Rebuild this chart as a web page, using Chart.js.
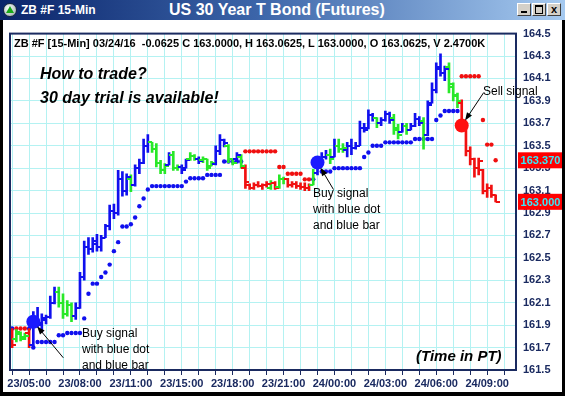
<!DOCTYPE html>
<html>
<head>
<meta charset="utf-8">
<title>ZB #F 15-Min</title>
<script src="https://cdn.jsdelivr.net/npm/chart.js@4.4.1/dist/chart.umd.min.js"></script>
<style>
  html, body { margin: 0; padding: 0; }
  body { width: 565px; height: 396px; position: relative; overflow: hidden; background: #000;
         font-family: "Liberation Sans", Arial, sans-serif; }
  #titlebar { position: absolute; left: 0; top: 0; width: 565px; height: 20px;
              background: linear-gradient(to right, #0a246a 0%, #3b64a8 45%, #a6caf0 100%); }
  #icon { position: absolute; left: 3px; top: 3px; width: 14px; height: 14px; border-radius: 50%;
          box-sizing: border-box; border: 1px solid #1a2a40;
          background: radial-gradient(circle at 40% 35%, #ffffff, #a0b0b0 85%); }
  #icon:after { content: ''; position: absolute; left: 2px; top: 2px; width: 0; height: 0;
                border-left: 4px solid transparent; border-right: 4px solid transparent;
                border-bottom: 7px solid #18a818; }
  #tleft { position: absolute; left: 21px; top: 3px; color: #fff; font: bold 12px/14px "Liberation Sans", Arial, sans-serif; }
  #tmain { position: absolute; left: 169px; top: 1px; color: #fff; font: bold 16px/18px "Liberation Sans", Arial, sans-serif; }
  .btn { position: absolute; top: 3px; width: 14px; height: 13px; box-sizing: border-box; background: #d4d0c8;
         border: 1px solid; border-color: #ffffff #404040 #404040 #ffffff; }
  #bmin:after { content: ''; position: absolute; left: 3px; top: 7px; width: 6px; height: 2px; background: #000; }
  #bmax:after { content: ''; position: absolute; left: 2px; top: 1px; width: 6px; height: 6px; border: 1px solid #000; border-top-width: 2px; }
  #bclose { font: bold 11px/11px "Liberation Sans", Arial, sans-serif; text-align: center; color: #000; }
  #client { position: absolute; left: 3px; top: 20px; width: 559px; height: 372px; background: #fff; }
  #client canvas { position: absolute; left: 0; top: 0; }
  .note { position: absolute; white-space: nowrap; color: #000; }
  .big { font: italic bold 16px/18px "Liberation Sans", Arial, sans-serif; }
  .small { font: 12px/16px "Liberation Sans", Arial, sans-serif; }
</style>
</head>
<body>
<div id="titlebar">
  <div id="icon"></div>
  <div id="tleft">ZB #F 15-Min</div>
  <div id="tmain">US 30 Year T Bond (Futures)</div>
  <div class="btn" id="bmin" style="left:517px"></div>
  <div class="btn" id="bmax" style="left:532px"></div>
  <div class="btn" id="bclose" style="left:547px">x</div>
</div>
<div id="client"><canvas id="chart" width="559" height="372"></canvas></div>

<div class="note" style="left:14px; top:37px; font: bold 11px/13px 'Liberation Sans', Arial, sans-serif;">ZB #F [15-Min] 03/24/16&nbsp; -0.0625 C 163.0000, H 163.0625, L 163.0000, O 163.0625, V 2.4700K</div>
<div class="note big" style="left:40px; top:65px;">How to trade?</div>
<div class="note big" style="left:40px; top:89px;">30 day trial is available!</div>
<div class="note big" style="left:416px; top:347px; font-size:15px;">(Time in PT)</div>
<div class="note small" style="left:82px; top:325px;">Buy signal<br>with blue dot<br>and blue bar</div>
<div class="note small" style="left:313px; top:185px;">Buy signal<br>with blue dot<br>and blue bar</div>
<div class="note small" style="left:483px; top:83px;">Sell signal</div>

<script>
// 15-min bars of 03/23 - 03/24 (PT), session break 14:00-15:00
const times = [];
for (let d = 23, h = 4, m = 0; times.length < 119; ) {
  times.push(d + '/' + String(h).padStart(2, '0') + ':' + String(m).padStart(2, '0'));
  m += 15;
  if (m === 60) { m = 0; h++; }
  if (h === 24) { h = 0; d++; }
  if (d === 23 && h === 14) h = 15;
}

const xTickLabels = ['23/05:00', '23/08:00', '23/11:00', '23/15:00', '23/18:00', '23/21:00',
                     '24/00:00', '24/03:00', '24/06:00', '24/09:00'];
const yTicks = [161.5, 161.7, 161.9, 162.1, 162.3, 162.5, 162.7, 162.9,
                163.1, 163.3, 163.5, 163.7, 163.9, 164.1, 164.3, 164.5];

const open = [
  161.85,161.78,161.82,161.79,161.83,161.72,161.95,161.90,161.95,161.97,
  162.10,162.20,162.10,162.00,162.08,161.98,162.05,162.33,162.60,162.58,
  162.62,162.60,162.68,162.78,162.92,162.90,163.20,163.10,163.20,163.15,
  163.30,163.35,163.50,163.53,163.47,163.35,163.28,163.33,163.42,163.30,
  163.31,163.30,163.38,163.41,163.38,163.37,163.38,163.32,163.34,163.45,
  163.55,163.50,163.38,163.38,163.40,163.30,163.15,163.12,163.15,163.14,
  163.15,163.12,163.17,163.13,163.20,163.20,163.15,163.16,163.14,163.13,
  163.12,163.15,163.26,163.36,163.40,163.42,163.40,163.50,163.47,163.46,
  163.50,163.48,163.50,163.66,163.66,163.77,163.75,163.70,163.73,163.78,
  163.75,163.66,163.62,163.68,163.64,163.68,163.74,163.72,163.60,163.88,
  164.00,164.20,164.15,164.20,164.05,163.95,163.88,163.68,163.45,163.38,
  163.30,163.28,163.10,163.12,163.0625
];
const high = [
  161.87,161.86,161.84,161.83,161.87,162.02,162.06,162.00,161.99,162.16,
  162.24,162.24,162.18,162.12,162.10,162.10,162.37,162.65,162.68,162.68,
  162.71,162.70,162.80,162.97,162.98,163.28,163.27,163.25,163.24,163.33,
  163.38,163.56,163.60,163.53,163.52,163.37,163.34,163.44,163.45,163.33,
  163.33,163.38,163.44,163.42,163.40,163.40,163.38,163.36,163.50,163.60,
  163.56,163.51,163.38,163.44,163.42,163.33,163.16,163.17,163.18,163.16,
  163.18,163.19,163.18,163.24,163.22,163.21,163.18,163.18,163.17,163.17,
  163.16,163.29,163.40,163.44,163.46,163.47,163.56,163.56,163.52,163.53,
  163.56,163.53,163.72,163.70,163.82,163.79,163.75,163.75,163.81,163.80,
  163.78,163.69,163.70,163.70,163.70,163.79,163.76,163.75,163.90,164.06,
  164.24,164.32,164.21,164.24,164.06,163.97,163.91,163.68,163.49,163.39,
  163.39,163.29,163.16,163.15,163.0625
];
const low = [
  161.70,161.75,161.76,161.77,161.70,161.69,161.88,161.84,161.91,161.96,
  162.09,162.06,161.96,161.98,161.93,161.95,162.05,162.30,162.53,162.55,
  162.56,162.56,162.68,162.75,162.85,162.88,163.05,163.06,163.09,163.14,
  163.25,163.34,163.44,163.44,163.31,163.25,163.25,163.33,163.28,163.28,
  163.25,163.30,163.37,163.37,163.34,163.35,163.28,163.32,163.33,163.42,
  163.49,163.35,163.33,163.36,163.30,163.12,163.11,163.11,163.13,163.11,
  163.13,163.11,163.11,163.12,163.16,163.13,163.13,163.12,163.11,163.10,
  163.10,163.15,163.24,163.32,163.38,163.34,163.40,163.44,163.44,163.40,
  163.42,163.47,163.50,163.62,163.65,163.72,163.66,163.68,163.72,163.70,
  163.60,163.56,163.62,163.60,163.64,163.67,163.68,163.47,163.59,163.88,
  163.97,164.12,164.08,163.97,163.90,163.84,163.70,163.41,163.33,163.22,
  163.24,163.07,163.04,163.04,163.00
];
const close = [
  161.72,161.84,161.78,161.80,161.72,161.95,161.92,161.96,161.97,162.10,
  162.20,162.10,162.00,162.08,161.98,162.05,162.33,162.60,162.58,162.65,
  162.60,162.68,162.78,162.92,162.90,163.20,163.10,163.22,163.15,163.30,
  163.35,163.50,163.53,163.47,163.35,163.28,163.32,163.42,163.30,163.31,
  163.28,163.37,163.41,163.38,163.36,163.38,163.30,163.35,163.45,163.55,
  163.52,163.38,163.35,163.42,163.32,163.18,163.12,163.15,163.14,163.15,
  163.16,163.17,163.12,163.20,163.20,163.15,163.16,163.14,163.13,163.12,
  163.15,163.26,163.36,163.40,163.42,163.38,163.50,163.47,163.48,163.50,
  163.48,163.50,163.66,163.64,163.77,163.75,163.70,163.73,163.78,163.73,
  163.64,163.60,163.68,163.64,163.68,163.74,163.70,163.60,163.86,164.00,
  164.18,164.15,164.18,164.02,163.94,163.90,163.72,163.45,163.38,163.30,
  163.36,163.10,163.12,163.06,163.00
];
// bar colour class: b = blue (up), g = green, r = red (down)
const barTrend = (
  'rgggrbbbbb' + 'bggggbbbbb' + 'bbbbbbbbgb' + 'bbbggggbgg' + 'bbggbgggbb' +
  'bggbgrrrrr' + 'rgrggrrrrr' + 'rgbbbgbggb' + 'bbbbbbgbbb' + 'ggbgbbbgbb' +
  'bbbgggrrrr' + 'rrrrr').split('');

// trailing stop dots
const stop = [
  161.87,161.87,161.87,161.87,161.87,
  161.70,
  161.75,161.75,161.75,161.75,161.75,
  161.81,161.81,
  161.83,161.83,161.83,161.83,
  161.96,162.18,162.27,162.27,162.33,162.37,162.44,162.56,
  162.64,162.78,162.78,162.80,162.86,162.96,163.03,163.11,
  163.14,163.14,163.14,163.14,163.14,163.14,163.14,163.14,
  163.18,
  163.21,163.21,163.21,163.21,
  163.24,163.24,163.24,163.24,
  163.36,163.36,163.36,163.36,163.36,
  163.45,163.45,163.45,163.45,163.45,163.45,163.45,163.45,
  163.31,163.31,
  163.25,163.25,163.25,163.25,
  163.20,163.20,163.20,
  null,
  163.27,163.27,163.27,
  163.30,163.30,163.30,163.30,163.30,163.30,163.30,
  163.40,163.44,
  163.50,163.50,163.50,
  163.53,163.53,163.53,163.53,163.53,163.53,163.53,
  163.56,163.56,163.56,163.56,163.56,
  163.73,163.77,
  163.81,163.81,163.81,163.81,
  164.12,164.12,164.12,164.12,164.12,
  163.73,163.51,163.51,163.37
];

const signalBar = [5, 72, 106];
const signalPrice = [161.93, 163.35, 163.68];
const signalType = ['buy', 'buy', 'sell'];

const priceMarks = [163.37, 163.0];

const BLUE = '#1010ee', GREEN = '#28e828', RED = '#f01010';
const NAVY = '#1a2a60';
const trendColor = { b: BLUE, g: GREEN, r: RED };

// little horizontal ticks for open (left) and close (right)
function tickImage(color, side) {
  const c = document.createElement('canvas');
  c.width = 8; c.height = 2;
  const g = c.getContext('2d');
  g.fillStyle = color;
  g.fillRect(side === 'L' ? 0 : 4, 0, 4, 2);
  return c;
}
const tickImg = {};
for (const t in trendColor) tickImg[t] = { L: tickImage(trendColor[t], 'L'), R: tickImage(trendColor[t], 'R') };

const idx = open.map((v, k) => k);

// arrows from the notes to the signal dots (pixel offsets of the arrow tail)
const arrowTail = [[30, 36], [16, 27], [22, -33]];

const overlay = {
  id: 'overlay',
  afterDatasetsDraw(chart) {
    const { ctx, scales: { x, y } } = chart;
    ctx.save();
    ctx.strokeStyle = '#000';
    ctx.fillStyle = '#000';
    ctx.lineWidth = 1;
    signalBar.forEach((k, n) => {
      const cx = x.getPixelForValue(k), cy = y.getPixelForValue(signalPrice[n]);
      const [dx, dy] = arrowTail[n];
      const len = Math.hypot(dx, dy), ux = dx / len, uy = dy / len;
      const tx = cx + ux * 6, ty = cy + uy * 6;
      ctx.beginPath();
      ctx.moveTo(cx + dx, cy + dy);
      ctx.lineTo(tx + ux * 6, ty + uy * 6);
      ctx.stroke();
      ctx.beginPath();
      ctx.moveTo(tx, ty);
      ctx.lineTo(tx + ux * 8 - uy * 3, ty + uy * 8 + ux * 3);
      ctx.lineTo(tx + ux * 8 + uy * 3, ty + uy * 8 - ux * 3);
      ctx.closePath();
      ctx.fill();
    });
    ctx.restore();
  },
  afterDraw(chart) {
    const { ctx, chartArea: a, scales: { y } } = chart;
    ctx.save();
    ctx.strokeStyle = NAVY;
    ctx.lineWidth = 2;
    ctx.strokeRect(a.left, a.top, a.right - a.left, a.bottom - a.top);
    ctx.font = 'bold 11px "Liberation Sans", Arial, sans-serif';
    ctx.textAlign = 'center';
    ctx.textBaseline = 'middle';
    priceMarks.forEach(v => {
      const py = y.getPixelForValue(v);
      ctx.fillStyle = '#ff0000';
      ctx.fillRect(a.right + 2, py - 8, 45, 16);
      ctx.fillStyle = '#38e8f8';
      ctx.fillText(v.toFixed(3), a.right + 24.5, py + 1);
    });
    ctx.restore();
  }
};

new Chart(document.getElementById('chart'), {
  type: 'bar',
  data: {
    datasets: [
      {
        type: 'scatter',
        data: signalBar.map((k, n) => ({ x: k, y: signalPrice[n] })),
        pointRadius: 7,
        pointBorderWidth: 0,
        pointBackgroundColor: signalType.map(t => t === 'buy' ? '#1a1aff' : '#ff1010'),
        order: 0
      },
      {
        type: 'scatter',
        data: idx.map(k => ({ x: k, y: open[k] })),
        pointRadius: 3,
        pointStyle: ctx => tickImg[barTrend[ctx.dataIndex]].L,
        order: 1
      },
      {
        type: 'scatter',
        data: idx.map(k => ({ x: k, y: close[k] })),
        pointRadius: 3,
        pointStyle: ctx => tickImg[barTrend[ctx.dataIndex]].R,
        order: 1
      },
      {
        type: 'bar',
        data: idx.map(k => ({ x: k, y: [low[k], high[k]] })),
        backgroundColor: barTrend.map(t => trendColor[t]),
        barThickness: 2,
        borderWidth: 0,
        order: 2
      },
      {
        type: 'scatter',
        data: idx.filter(k => stop[k] !== null).map(k => ({ x: k, y: stop[k] })),
        pointRadius: 2.2,
        pointBorderWidth: 0,
        pointBackgroundColor: ctx => stop[ctx.raw.x] > high[ctx.raw.x] ? RED : BLUE,
        order: 3
      }
    ]
  },
  options: {
    responsive: false,
    animation: false,
    events: [],
    layout: { padding: { left: 6, top: 10, right: 0, bottom: 0 } },
    plugins: { legend: { display: false }, tooltip: { enabled: false } },
    scales: {
      x: {
        type: 'linear',
        min: -0.5,
        max: 118.8,
        offset: false,
        afterBuildTicks: s => {
          s.ticks = times.map((t, k) => k).filter(k => times[k].endsWith(':00') && k <= s.max).map(k => ({ value: k }));
        },
        afterFit: s => { s.height = 22; },
        ticks: {
          autoSkip: false, minRotation: 0, maxRotation: 0, padding: 2,
          color: NAVY,
          font: { family: '"Liberation Sans", Arial, sans-serif', size: 11, weight: 'bold' },
          callback: v => xTickLabels.includes(times[v]) ? times[v] : ''
        },
        grid: { color: '#b4f2f2', tickColor: NAVY, tickLength: 5, offset: false, lineWidth: 1 },
        border: { display: false }
      },
      y: {
        type: 'linear',
        position: 'right',
        min: 161.5,
        max: 164.5,
        afterBuildTicks: s => { s.ticks = yTicks.map(v => ({ value: v })); },
        afterFit: s => { s.width = 46; },
        ticks: {
          padding: 7,
          color: NAVY,
          font: { family: '"Liberation Sans", Arial, sans-serif', size: 11, weight: 'bold' },
          callback: v => v.toFixed(1)
        },
        grid: { color: '#b4f2f2', drawTicks: false, lineWidth: 1 },
        border: { display: false }
      }
    }
  },
  plugins: [overlay]
});
</script>
</body>
</html>
